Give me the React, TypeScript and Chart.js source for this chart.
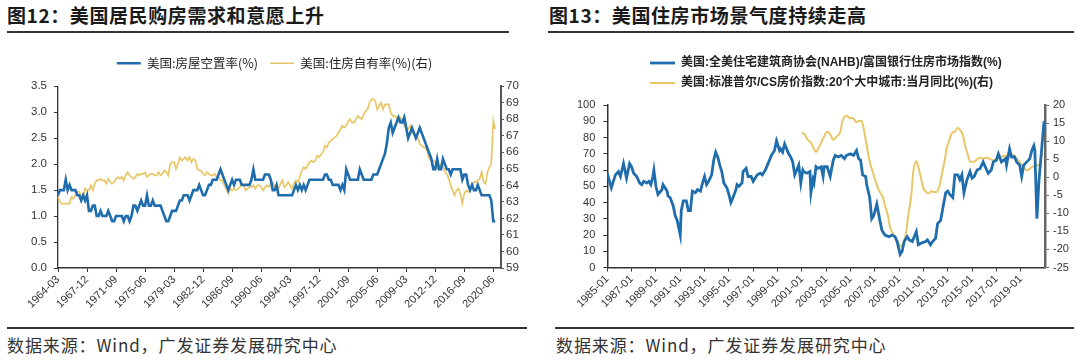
import React, { useEffect, useRef } from 'react';
import { Chart, registerables } from 'chart.js';

Chart.register(...registerables);

// ---------- Figure 12 data (quarterly, from 1964-03) ----------
const vacancyRate: number[] = [
  1.4, 1.5, 1.5, 1.5, 1.7, 1.5, 1.6, 1.5, 1.5, 1.5, 1.4, 1.4, 1.3, 1.4, 1.3, 1.4,
  1.1, 1.1, 1.2, 1.2, 1.0, 1.0, 1.1, 1.0, 1.0, 1.0, 1.1, 1.0, 0.9, 0.9, 1.0, 1.0,
  1.0, 1.0, 0.9, 1.0, 1.0, 0.9, 1.0, 1.2, 1.2, 1.1, 1.2, 1.3, 1.2, 1.2, 1.4, 1.2,
  1.2, 1.3, 1.2, 1.2, 1.2, 1.2, 1.1, 1.0, 0.9, 0.9, 1.0, 1.1, 1.1, 1.1, 1.2, 1.3,
  1.3, 1.4, 1.4, 1.4, 1.3, 1.4, 1.5, 1.5, 1.5, 1.6, 1.5, 1.4, 1.4, 1.5, 1.6, 1.6,
  1.7, 1.7, 1.7, 1.8, 1.9, 1.8, 1.7, 1.6, 1.5, 1.6, 1.7, 1.6, 1.7, 1.7, 1.7, 1.6,
  1.6, 1.6, 1.6, 1.6, 1.7, 1.9, 1.7, 1.7, 1.7, 1.7, 1.7, 1.8, 1.8, 1.8, 1.7, 1.5,
  1.5, 1.6, 1.4, 1.4, 1.4, 1.4, 1.4, 1.4, 1.4, 1.4, 1.5, 1.6, 1.5, 1.6, 1.5, 1.6,
  1.5, 1.6, 1.7, 1.7, 1.7, 1.7, 1.7, 1.7, 1.7, 1.7, 1.8, 1.8, 1.7, 1.7, 1.6, 1.6,
  1.6, 1.6, 1.5, 1.6, 1.5, 1.9, 1.8, 1.7, 1.7, 1.7, 1.7, 1.7, 1.9, 1.8, 1.7, 1.7,
  1.7, 1.7, 1.7, 1.8, 1.8, 1.8, 1.9, 2.0, 2.1, 2.2, 2.4, 2.7, 2.8, 2.6, 2.7, 2.8,
  2.9, 2.8, 2.8, 2.9, 2.7, 2.5, 2.6, 2.7, 2.6, 2.5, 2.6, 2.7, 2.6, 2.5, 2.4, 2.3,
  2.2, 2.1, 1.9, 1.9, 2.1, 1.9, 1.9, 2.1, 2.0, 1.9, 1.9, 1.8, 1.9, 1.9, 1.9, 1.9,
  1.9, 1.7, 1.8, 1.8, 1.6, 1.5, 1.6, 1.5, 1.5, 1.6, 1.5, 1.4, 1.4, 1.4, 1.4, 1.4,
  1.3, 0.9, 0.9,
];

const ownershipRate: number[] = [
  63.3, 63.0, 62.9, 62.9, 62.9, 62.9, 62.9, 63.3, 63.2, 63.4, 63.6, 63.6, 63.4, 63.3, 63.8, 63.7,
  63.7, 64.0, 63.7, 64.1, 64.3, 64.3, 64.4, 64.3, 64.3, 64.1, 64.4, 64.2, 64.1, 64.2, 64.4, 64.5,
  64.4, 64.5, 64.3, 64.6, 64.8, 64.6, 64.5, 64.4, 64.5, 64.7, 64.6, 64.7, 64.7, 64.8, 64.5, 64.6,
  64.7, 64.7, 64.6, 64.6, 64.8, 64.6, 64.7, 64.9, 64.8, 64.6, 65.3, 65.4, 65.4, 65.0, 65.3, 65.7,
  65.5, 65.6, 65.7, 65.5, 65.7, 65.4, 65.6, 65.5, 65.0, 64.9, 64.9, 64.7, 64.6, 64.8, 64.7, 64.6,
  64.6, 64.7, 64.5, 64.5, 64.3, 64.3, 64.0, 63.8, 63.5, 63.8, 63.7, 63.8, 63.7, 63.8, 63.9, 64.1,
  64.0, 63.7, 63.8, 63.9, 63.9, 64.0, 63.8, 64.0, 64.0, 63.9, 63.7, 63.9, 64.0, 63.9, 64.1, 64.2,
  63.9, 63.9, 63.8, 64.1, 64.3, 63.9, 64.0, 64.2, 64.0, 63.8, 64.1, 64.3, 64.2, 64.5, 64.9, 65.1,
  65.0, 65.2, 65.4, 65.5, 65.4, 65.5, 65.8, 65.7, 65.9, 66.0, 66.4, 66.3, 66.6, 66.7, 66.8, 66.9,
  67.0, 67.2, 67.4, 67.6, 67.5, 67.6, 67.9, 68.0, 67.8, 67.8, 68.0, 68.2, 68.1, 68.0, 68.3, 68.5,
  68.6, 69.0, 69.2, 69.2, 69.1, 68.6, 68.8, 69.0, 68.6, 68.9, 68.9, 68.9, 68.4, 68.2, 68.2, 68.1,
  67.9, 68.1, 67.9, 67.6, 67.5, 67.4, 67.6, 67.2, 67.1, 66.9, 66.9, 66.5, 66.4, 66.3, 66.3, 66.0,
  65.6, 65.5, 65.5, 65.4, 65.0, 65.0, 65.3, 65.2, 64.8, 64.7, 64.4, 64.0, 63.7, 63.4, 63.7, 63.8,
  63.5, 62.9, 63.5, 63.7, 63.6, 63.7, 63.9, 64.2, 64.2, 64.3, 64.4, 64.8, 64.2, 64.1, 64.8, 65.1,
  65.3, 67.9, 67.4,
];

const quarterEnds = ['03', '06', '09', '12'];
const quarterLabels: string[] = [];
for (let y = 1964; y <= 2021; y++) for (const m of quarterEnds) quarterLabels.push(`${y}-${m}`);
quarterLabels.length = 230;

// ---------- Figure 13 data (monthly readings) ----------
const nahbDates: string[] = [
  '1985-01','1985-05','1985-09','1985-12','1986-02','1986-05','1986-06','1986-08','1986-11','1987-01',
  '1987-03','1987-06','1987-09','1987-11','1988-01','1988-04','1988-06','1988-08','1988-10','1988-11',
  '1989-01','1989-03','1989-07','1989-08','1989-12','1990-01','1990-03','1990-06','1990-08','1990-10',
  '1991-01','1991-02','1991-04','1991-07','1991-09','1991-11','1992-01','1992-04','1992-06','1992-09',
  '1992-11','1993-01','1993-03','1993-05','1993-08','1993-10','1993-12','1994-02','1994-04','1994-06',
  '1994-08','1994-11','1995-01','1995-03','1995-05','1995-08','1995-09','1995-11','1996-02','1996-03',
  '1996-06','1996-08','1996-11','1997-01','1997-03','1997-05','1997-08','1997-10','1998-01','1998-03',
  '1998-05','1998-07','1998-10','1998-12','1999-03','1999-04','1999-06','1999-08','1999-10','1999-12',
  '2000-02','2000-04','2000-06','2000-08','2000-10','2000-12','2001-02','2001-03','2001-06','2001-09',
  '2001-10','2001-12','2002-01','2002-03','2002-05','2002-08','2002-10','2002-11','2003-02','2003-05',
  '2003-08','2003-10','2004-01','2004-04','2004-07','2004-09','2005-01','2005-04','2005-07','2005-09',
  '2005-11','2006-01','2006-04','2006-05','2006-08','2006-10','2006-12','2007-03','2007-06','2007-08',
  '2007-11','2008-03','2008-06','2008-09','2008-11','2009-02','2009-04','2009-06','2009-09','2009-11',
  '2010-02','2010-04','2010-06','2010-08','2010-11','2011-03','2011-05','2011-08','2011-10','2012-01',
  '2012-03','2012-06','2012-08','2012-11','2013-01','2013-03','2013-06','2013-08','2013-11','2014-01',
  '2014-03','2014-05','2014-08','2014-11','2015-01','2015-03','2015-06','2015-09','2015-12','2016-02',
  '2016-05','2016-08','2016-10','2017-01','2017-03','2017-06','2017-10','2017-11','2018-02','2018-04',
  '2018-07','2018-09','2018-12','2019-02','2019-04','2019-07','2019-10','2019-12','2020-02','2020-03',
  '2020-05','2020-07','2020-10','2020-12',
];
const nahbValues: number[] = [
  58, 49, 57, 59, 56, 64, 61, 55, 64, 62,
  58, 56, 52, 51, 53, 52, 53, 51, 56, 60,
  50, 45, 48, 51, 47, 44, 43, 38, 32, 29,
  20, 35, 41, 41, 35, 35, 47, 46, 48, 47,
  52, 56, 51, 53, 57, 66, 71, 68, 63, 59,
  52, 49, 45, 40, 43, 48, 51, 50, 52, 59,
  61, 56, 56, 53, 55, 57, 58, 57, 60, 63,
  66, 69, 72, 78, 72, 73, 71, 76, 73, 70,
  68, 65, 57, 60, 63, 52, 60, 59, 58, 59,
  46, 54, 52, 62, 61, 62, 56, 62, 62, 56,
  66, 69, 68, 69, 67, 69, 70, 69, 72, 67,
  66, 57, 56, 51, 43, 30, 32, 39, 29, 23,
  20, 19, 20, 19, 16, 8, 10, 16, 19, 17,
  16, 19, 22, 14, 15, 16, 17, 14, 16, 18,
  27, 29, 36, 46, 47, 45, 43, 57, 57, 54,
  57, 46, 54, 59, 55, 56, 60, 61, 65, 62,
  58, 60, 65, 66, 70, 65, 67, 63, 73, 68,
  68, 65, 63, 56, 63, 65, 67, 72, 75, 72,
  30, 53, 75, 90,
];

const csDates: string[] = [
  '2001-01','2001-04','2001-07','2001-10','2002-01','2002-03','2002-05','2002-07','2002-10','2003-02',
  '2003-05','2003-08','2003-11','2004-03','2004-05','2004-09','2005-01','2005-03','2005-07','2005-09',
  '2005-12','2006-02','2006-05','2006-08','2006-12','2007-03','2007-06','2007-09','2007-11','2008-02',
  '2008-04','2008-07','2008-10','2009-01','2009-03','2009-05','2009-08','2009-10','2010-01','2010-03',
  '2010-06','2010-08','2010-11','2011-01','2011-04','2011-06','2011-09','2011-11','2012-02','2012-05',
  '2012-07','2012-10','2012-12','2013-03','2013-05','2013-08','2013-11','2014-01','2014-04','2014-06',
  '2014-09','2014-11','2015-03','2015-06','2015-09','2015-12','2016-04','2016-07','2016-10','2017-02',
  '2017-05','2017-08','2017-12','2018-03','2018-06','2018-09','2019-01','2019-04','2019-07','2019-11',
  '2020-02','2020-05','2020-08','2020-10',
];
const csValues: number[] = [
  12.4, 11.7, 10.3, 9.6, 7.8, 7.0, 7.9, 8.9, 10.7, 12.6,
  11.9, 10.3, 11.2, 12.6, 15.4, 17.0, 16.3, 16.5, 15.2, 15.6,
  15.6, 13.5, 8.9, 4.3, 0.6, -2.2, -4.1, -5.5, -7.8, -10.6,
  -13.8, -15.6, -17.0, -18.4, -19.1, -18.4, -15.2, -10.6, -5.0, 1.5,
  4.4, 2.9, -0.8, -3.1, -4.1, -4.5, -3.9, -4.1, -4.1, -2.2,
  0.6, 4.7, 8.0, 10.7, 12.1, 12.6, 13.7, 13.1, 11.7, 8.9,
  6.1, 4.3, 4.3, 5.0, 5.4, 5.2, 5.4, 5.0, 4.7, 5.2,
  5.6, 5.9, 6.0, 6.3, 6.1, 5.2, 3.8, 2.6, 1.9, 2.6,
  3.1, 3.3, 3.5, 6.6,
];

const BLUE = '#1F6DAD';
const GOLD = '#E9C766';
const TEXT = '#333333';
const LATIN = '"Liberation Sans", Arial, "Noto Sans CJK SC", sans-serif';
const CJK = '"Noto Sans CJK SC", "Liberation Sans", sans-serif';

const monthIndex = (d: string) => {
  const [y, m] = d.split('-').map(Number);
  return (y - 1985) * 12 + (m - 1);
};

const spacer = (h: number) => ({
  type: 'linear',
  position: 'top',
  display: true,
  grid: { display: false },
  border: { display: false },
  ticks: { display: false },
  afterFit: (s: any) => { s.height = h; },
});

function Figure12() {
  const ref = useRef<HTMLCanvasElement>(null);
  useEffect(() => {
    const chart = new Chart(ref.current!, {
      type: 'line',
      data: {
        labels: quarterLabels,
        datasets: [
          {
            label: '美国:房屋空置率(%)',
            data: vacancyRate,
            borderColor: BLUE,
            backgroundColor: BLUE,
            borderWidth: 2.6,
            pointRadius: 0,
            tension: 0,
            xAxisID: 'x',
            yAxisID: 'yL',
          },
          {
            label: '美国:住房自有率(%)(右)',
            data: ownershipRate,
            borderColor: GOLD,
            backgroundColor: GOLD,
            borderWidth: 1.7,
            pointRadius: 0,
            tension: 0,
            xAxisID: 'x',
            yAxisID: 'yR',
          },
        ],
      },
      options: {
        animation: false,
        responsive: false,
        maintainAspectRatio: false,
        layout: { padding: { top: 5, left: 8, right: 4, bottom: 2 } },
        plugins: {
          tooltip: { enabled: false },
          legend: {
            position: 'top',
            labels: {
              usePointStyle: true,
              pointStyle: 'line',
              pointStyleWidth: 24,
              padding: 12,
              color: '#222',
              font: { size: 12.5, family: CJK },
            },
          },
        },
        scales: {
          x: {
            type: 'category',
            offset: false,
            grid: { drawOnChartArea: false, drawTicks: true, tickLength: 4, color: '#333', lineWidth: 1 },
            border: { color: '#333', width: 1.5 },
            ticks: {
              autoSkip: false,
              minRotation: 45,
              maxRotation: 45,
              padding: 1,
              color: TEXT,
              font: { size: 11, family: LATIN },
              callback: (_v: any, i: number) => (i % 15 === 0 ? quarterLabels[i] : null),
            },
            afterFit: (s: any) => { s.height = 60; },
          },
          yL: {
            type: 'linear',
            position: 'left',
            min: 0,
            max: 3.5,
            grid: { drawOnChartArea: false, drawTicks: true, tickLength: 4, color: '#333' },
            border: { color: '#333', width: 1.3 },
            ticks: {
              stepSize: 0.5,
              autoSkip: false,
              padding: 7,
              color: TEXT,
              font: { size: 11.5, family: LATIN },
              callback: (v: any) => Number(v).toFixed(1),
            },
            afterFit: (s: any) => { s.width = 50; },
          },
          yR: {
            type: 'linear',
            position: 'right',
            min: 59,
            max: 70,
            grid: { drawOnChartArea: false, drawTicks: true, tickLength: 3, color: '#555' },
            border: { color: '#555', width: 2 },
            ticks: { stepSize: 1, autoSkip: false, padding: 2, color: TEXT, font: { size: 11.5, family: LATIN } },
            afterFit: (s: any) => { s.width = 40; },
          },
          sp: spacer(6.7) as any,
        },
      } as any,
    });
    return () => chart.destroy();
  }, []);
  return (
    <canvas
      ref={ref}
      width={545}
      height={290}
      style={{ position: 'absolute', left: 0, top: 40, width: 545, height: 290, display: 'block' }}
    />
  );
}

// left-aligns the legend rows at a fixed x inside the canvas (as in the reference)
const legendOffset = (x: number) => ({
  id: 'legendOffset',
  afterLayout(chart: any) {
    if (chart.legend) chart.legend.left = x;
  },
});

function Figure13() {
  const ref = useRef<HTMLCanvasElement>(null);
  useEffect(() => {
    const chart = new Chart(ref.current!, {
      type: 'line',
      data: {
        datasets: [
          {
            label: '美国:全美住宅建筑商协会(NAHB)/富国银行住房市场指数(%)',
            data: nahbDates.map((d, i) => ({ x: monthIndex(d), y: nahbValues[i] })),
            borderColor: BLUE,
            backgroundColor: BLUE,
            borderWidth: 2.8,
            pointRadius: 0,
            tension: 0,
            xAxisID: 'x',
            yAxisID: 'yL',
          },
          {
            label: '美国:标准普尔/CS房价指数:20个大中城市:当月同比(%)(右)',
            data: csDates.map((d, i) => ({ x: monthIndex(d), y: csValues[i] })),
            borderColor: GOLD,
            backgroundColor: GOLD,
            borderWidth: 2,
            pointRadius: 0,
            cubicInterpolationMode: 'monotone',
            xAxisID: 'x',
            yAxisID: 'yR',
          },
        ],
      },
      plugins: [legendOffset(97)],
      options: {
        animation: false,
        responsive: false,
        maintainAspectRatio: false,
        layout: { padding: { top: 5, left: 4.3, right: 4, bottom: 2.5 } },
        plugins: {
          tooltip: { enabled: false },
          legend: {
            position: 'top',
            align: 'start',
            labels: {
              usePointStyle: true,
              pointStyle: 'line',
              pointStyleWidth: 25,
              padding: 8,
              color: '#222',
              font: { size: 12, weight: 'bold', family: LATIN },
            },
          },
        },
        scales: {
          x: {
            type: 'linear',
            min: 0,
            max: 432,
            grid: { drawOnChartArea: false, drawTicks: true, tickLength: 4, color: '#333', lineWidth: 1 },
            border: { color: '#333', width: 1.5 },
            afterBuildTicks: (s: any) => {
              s.ticks = s.ticks.filter((t: any) => t.value % 24 === 0 && t.value <= 408);
            },
            ticks: {
              stepSize: 24,
              autoSkip: false,
              minRotation: 45,
              maxRotation: 45,
              padding: 1,
              color: TEXT,
              font: { size: 11, family: LATIN },
              callback: (v: any) => `${1985 + Math.round(Number(v) / 12)}-01`,
            },
            afterFit: (s: any) => { s.height = 60; },
          },
          yL: {
            type: 'linear',
            position: 'left',
            min: 0,
            max: 100,
            grid: { drawOnChartArea: false, drawTicks: true, tickLength: 4, color: '#333' },
            border: { color: '#333', width: 1.5 },
            ticks: { stepSize: 10, autoSkip: false, padding: 8, color: TEXT, font: { size: 11, family: LATIN } },
            afterFit: (s: any) => { s.width = 58; },
          },
          yR: {
            type: 'linear',
            position: 'right',
            min: -25,
            max: 20,
            grid: { drawOnChartArea: false, drawTicks: true, tickLength: 4, color: '#666' },
            border: { color: '#666', width: 2.5 },
            ticks: { stepSize: 5, autoSkip: false, padding: 4, color: TEXT, font: { size: 11, family: LATIN } },
            afterFit: (s: any) => { s.width = 31; },
          },
          sp: spacer(6) as any,
        },
      } as any,
    });
    return () => chart.destroy();
  }, []);
  return (
    <canvas
      ref={ref}
      width={535}
      height={286}
      style={{ position: 'absolute', left: 545, top: 44, width: 535, height: 286, display: 'block' }}
    />
  );
}

const titleStyle: React.CSSProperties = {
  position: 'absolute',
  top: 5,
  fontFamily: CJK,
  fontWeight: 700,
  fontSize: 19,
  lineHeight: '20px',
  color: '#1a1a1a',
  letterSpacing: 0.6,
  whiteSpace: 'nowrap',
};
const footStyle: React.CSSProperties = {
  position: 'absolute',
  top: 335,
  fontFamily: CJK,
  fontWeight: 400,
  fontSize: 17,
  lineHeight: '20px',
  color: '#333',
  letterSpacing: 0.9,
  whiteSpace: 'nowrap',
};
const rule = (left: number, top: number, width: number): React.CSSProperties => ({
  position: 'absolute',
  left,
  top,
  width,
  height: 1.5,
  background: '#333',
});

export default function App() {
  return (
    <div
      style={{
        position: 'fixed',
        left: 0,
        top: 0,
        width: 1080,
        height: 363,
        background: '#fff',
        overflow: 'hidden',
      }}
    >
      <div style={{ ...titleStyle, left: 7 }}>图12：美国居民购房需求和意愿上升</div>
      <div style={{ ...titleStyle, left: 549 }}>图13：美国住房市场景气度持续走高</div>
      <div style={rule(7, 31, 502)} />
      <div style={rule(548, 31, 526)} />
      <Figure12 />
      <Figure13 />
      <div style={rule(7, 327, 520)} />
      <div style={rule(555, 327, 519)} />
      <div style={{ ...footStyle, left: 7 }}>数据来源：Wind，广发证券发展研究中心</div>
      <div style={{ ...footStyle, left: 556 }}>数据来源：Wind，广发证券发展研究中心</div>
    </div>
  );
}
